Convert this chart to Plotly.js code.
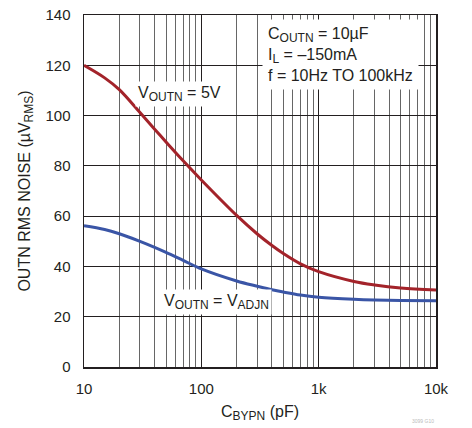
<!DOCTYPE html>
<html>
<head>
<meta charset="utf-8">
<script src="https://cdn.plot.ly/plotly-3.0.1.min.js"></script>
<style>html,body{margin:0;padding:0;background:#fff;}#chart{width:472px;height:428px;}</style>
</head>
<body>
<div id="chart"></div>
<script>
var capPF = [10, 15, 20, 30, 40, 50, 70, 100, 200, 300, 400, 500, 700, 1000, 2000, 3000, 5000, 10000];
var noise5V = [120, 115.0, 110.3, 101.2, 94.6, 89.5, 82.0, 74.4, 60.3, 52.9, 48.3, 45.1, 41.0, 37.9, 34.0, 32.6, 31.4, 30.6];
var noiseAdj = [56.2, 54.7, 53.0, 50.0, 47.6, 45.6, 42.4, 39.0, 34.2, 32.1, 30.7, 29.8, 28.6, 27.75, 26.9, 26.6, 26.4, 26.3];
var xTickVals = [10, 100, 1000, 10000];
var xTickText = ['10', '100', '1k', '10k'];
var yTickVals = [0, 20, 40, 60, 80, 100, 120, 140];

var FONT = '"Liberation Sans", Arial, sans-serif';
var INK = '#231f20';
function sub(t, px) { return '<sub><span style="font-size:' + px + 'px">' + t + '</span></sub>'; }

var traces = [
  {x: capPF, y: noise5V, mode: 'lines', line: {color: '#a3232a', width: 3, shape: 'spline', smoothing: 1}, hoverinfo: 'skip'},
  {x: capPF, y: noiseAdj, mode: 'lines', line: {color: '#3a55a6', width: 3, shape: 'spline', smoothing: 1}, hoverinfo: 'skip'}
];

var layout = {
  width: 472, height: 428,
  margin: {l: 84, r: 36, t: 15, b: 61},
  paper_bgcolor: '#fff', plot_bgcolor: '#fff',
  showlegend: false,
  font: {family: FONT, size: 15, color: INK},
  xaxis: {
    type: 'log', range: [1, 4],
    tickmode: 'array', tickvals: xTickVals, ticktext: xTickText,
    ticks: '', ticklabelstandoff: 7,
    showgrid: true, gridcolor: INK, gridwidth: 1,
    minor: {dtick: 'D1', showgrid: true, gridcolor: '#666', gridwidth: 1, ticks: ''},
    showline: true, linecolor: INK, linewidth: 1.5, mirror: true,
    zeroline: false,
    tickfont: {size: 15, family: FONT},
    title: {text: 'C' + sub('BYPN', 12) + ' (pF)', font: {size: 16, family: FONT}, standoff: 10}
  },
  yaxis: {
    range: [0, 140],
    tickmode: 'array', tickvals: yTickVals,
    ticks: '', ticklabelstandoff: 9,
    showgrid: true, gridcolor: INK, gridwidth: 1,
    showline: true, linecolor: INK, linewidth: 1.5, mirror: true,
    zeroline: false,
    tickfont: {size: 15, family: FONT},
    title: {text: 'OUTN RMS NOISE (µV' + sub('RMS', 12) + ')', font: {size: 16, family: FONT}, standoff: 11}
  },
  annotations: [
    {xref: 'paper', yref: 'paper', x: 0.505, y: 0.99, xanchor: 'left', yanchor: 'top',
     text: 'C' + sub('OUTN', 12) + ' = 10µF<br>I' + sub('L', 12) + ' = –150mA<br>f = 10Hz TO 100kHz',
     align: 'left', showarrow: false, bgcolor: '#fff', borderpad: 5,
     font: {size: 16, family: FONT, color: INK}},
    {xref: 'paper', yref: 'paper', x: 0.27, y: 0.776, xanchor: 'center', yanchor: 'middle',
     text: 'V' + sub('OUTN', 12) + ' = 5V', showarrow: false, bgcolor: '#fff', borderpad: 2,
     font: {size: 16, family: FONT, color: INK}},
    {xref: 'paper', yref: 'paper', x: 0.375, y: 0.186, xanchor: 'center', yanchor: 'middle',
     text: 'V' + sub('OUTN', 12) + ' = V' + sub('ADJN', 12), showarrow: false, bgcolor: '#fff', borderpad: 2,
     font: {size: 16, family: FONT, color: INK}},
    {xref: 'paper', yref: 'paper', x: 1.0, y: -0.168, xanchor: 'right', yanchor: 'bottom',
     text: '3099 G10', showarrow: false, font: {size: 5, family: FONT, color: '#bbb'}}
  ]
};

Plotly.newPlot('chart', traces, layout, {staticPlot: true, displayModeBar: false});
</script>
</body>
</html>
